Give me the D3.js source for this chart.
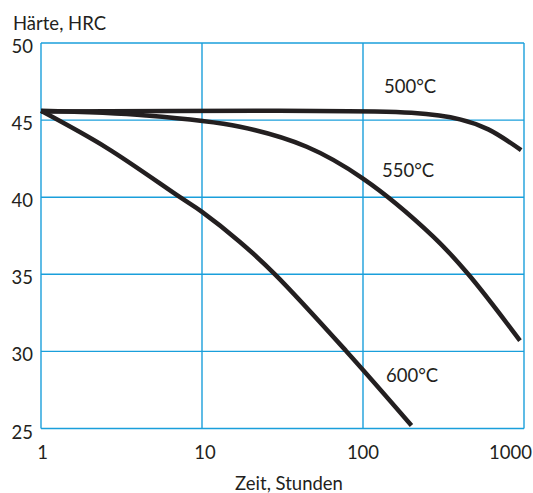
<!DOCTYPE html>
<html>
<head>
<meta charset="utf-8">
<script src="https://cdn.jsdelivr.net/npm/d3@7"></script>
<style>
  body { margin: 0; background: #fff; }
  text { font-family: Lato, "Open Sans", sans-serif; fill: #231f20; }
</style>
</head>
<body>
<div id="chart"></div>
<script>
// data ---------------------------------------------------------------
const xTicks = [1, 10, 100, 1000];
const yTicks = [25, 30, 35, 40, 45, 50];
const curve500 = [[1, 45.55], [30, 45.6], [200, 45.47], [400, 45.05], [600, 44.4], [960, 43.05]];
const curve550 = [[1, 45.6], [4.5, 45.3], [17.2, 44.57], [44.7, 43.27], [100, 41.21], [273, 37.45], [451, 35.0], [944, 30.7]];
const curve600 = [[1, 45.6], [2.56, 43.2], [7.3, 40.0], [10, 39.05], [17.2, 37.1], [28.4, 35.0], [79, 30.0], [200, 25.2]];
const seriesNames = ['500°C', '550°C', '600°C'];
const yTitle = 'Härte, HRC';
const xTitle = 'Zeit, Stunden';

// layout -------------------------------------------------------------
const width = 533, height = 493;
const m = {left: 41, right: 9, top: 43, bottom: 64.5};
const gridColor = '#1a9fdb';

const svg = d3.select('#chart').append('svg')
  .attr('width', width)
  .attr('height', height);

const x = d3.scaleLog().domain([1, 1000]).range([m.left, width - m.right]);
const y = d3.scaleLinear().domain([25, 50]).range([height - m.bottom, m.top]);

// grid ---------------------------------------------------------------
const grid = svg.append('g').attr('stroke', gridColor).attr('stroke-width', 1.4);
grid.selectAll('.vg').data(xTicks).enter().append('line')
  .attr('x1', d => x(d)).attr('x2', d => x(d))
  .attr('y1', y(25)).attr('y2', y(50));
grid.selectAll('.hg').data(yTicks).enter().append('line')
  .attr('y1', d => y(d)).attr('y2', d => y(d))
  .attr('x1', x(1)).attr('x2', x(1000));

// axes labels --------------------------------------------------------
svg.append('g').selectAll('text').data(yTicks).enter().append('text')
  .attr('x', 33)
  .attr('y', d => y(d) + 10)
  .attr('text-anchor', 'end')
  .attr('font-size', 18.5)
  .text(d => d);

svg.append('g').selectAll('text').data(xTicks).enter().append('text')
  .attr('x', (d, i) => i === xTicks.length - 1 ? 532 : x(d) + (i === 0 ? 1.5 : i === 1 ? 3 : 0))
  .attr('y', 459)
  .attr('text-anchor', (d, i) => i === xTicks.length - 1 ? 'end' : 'middle')
  .attr('font-size', 18.5)
  .text(d => d);

svg.append('text')
  .attr('x', 13).attr('y', 30)
  .attr('font-size', 18.5)
  .text(yTitle);

svg.append('text')
  .attr('x', 289).attr('y', 490)
  .attr('text-anchor', 'middle')
  .attr('font-size', 18.5)
  .text(xTitle);

// curves -------------------------------------------------------------
const line = d3.line()
  .x(d => x(d[0]))
  .y(d => y(d[1]))
  .curve(d3.curveCatmullRom.alpha(0.5));

svg.append('g').selectAll('path').data([curve500, curve550, curve600]).enter().append('path')
  .attr('d', line)
  .attr('fill', 'none')
  .attr('stroke', '#231f20')
  .attr('stroke-width', 4.5);

// series labels
const labelPos = [[384, 93], [382, 176.5], [386, 381.5]];
svg.append('g').selectAll('text').data(seriesNames).enter().append('text')
  .attr('x', (d, i) => labelPos[i][0])
  .attr('y', (d, i) => labelPos[i][1])
  .attr('font-size', 18.5)
  .text(d => d);
</script>
</body>
</html>
